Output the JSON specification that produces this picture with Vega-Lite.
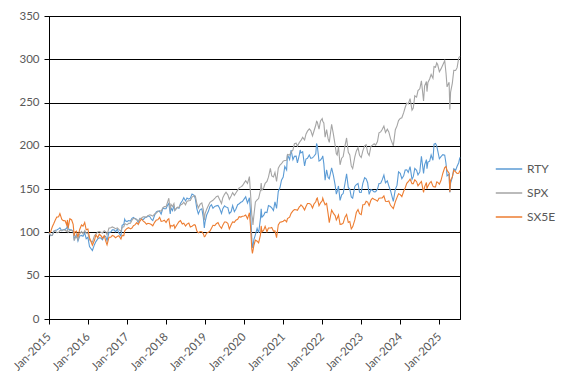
{
"$schema": "https://vega.github.io/schema/vega-lite/v6.json",
"width": 411,
"height": 303,
"autosize": "none",
"padding": {"left": 49, "top": 16, "right": 107, "bottom": 64},
"background": "white",
"config": {
 "view": {"stroke": "#000000", "strokeWidth": 1},
 "font": "Lato",
 "axis": {"labelFont": "Lato", "labelFontSize": 11.5, "labelColor": "#595959", "domainColor": "#000000", "tickColor": "#000000", "gridColor": "#000000", "gridOpacity": 1, "tickSize": 5, "domainWidth": 1, "tickWidth": 1, "gridWidth": 1},
 "legend": {"labelFont": "Lato", "labelFontSize": 12, "labelColor": "#595959"}
},
"data": {"values": [
{"d":"2015-01-01","RTY":100,"SPX":100,"SX5E":100},
{"d":"2015-01-15","RTY":96.3,"SPX":96.7,"SX5E":100.3},
{"d":"2015-02-01","RTY":96.7,"SPX":96.9,"SX5E":106.5},
{"d":"2015-02-15","RTY":101.1,"SPX":101.8,"SX5E":110.3},
{"d":"2015-03-01","RTY":102.4,"SPX":102.2,"SX5E":114.4},
{"d":"2015-03-15","RTY":102.9,"SPX":99.7,"SX5E":117.7},
{"d":"2015-04-01","RTY":104.1,"SPX":100.0,"SX5E":118.1},
{"d":"2015-04-13","RTY":105.3,"SPX":102.3,"SX5E":121.7},
{"d":"2015-05-01","RTY":101.9,"SPX":102.4,"SX5E":114.9},
{"d":"2015-05-15","RTY":103.2,"SPX":103.1,"SX5E":113.6},
{"d":"2015-06-01","RTY":103.5,"SPX":102.5,"SX5E":113.5},
{"d":"2015-06-15","RTY":105.0,"SPX":101.2,"SX5E":108.8},
{"d":"2015-06-23","RTY":107.5,"SPX":103.2,"SX5E":114.4},
{"d":"2015-06-29","RTY":104.0,"SPX":99.9,"SX5E":104.7},
{"d":"2015-07-15","RTY":103.3,"SPX":102.3,"SX5E":115.8},
{"d":"2015-08-01","RTY":102.8,"SPX":102.2,"SX5E":114.4},
{"d":"2015-08-15","RTY":101.4,"SPX":101.6,"SX5E":109.3},
{"d":"2015-08-25","RTY":92.1,"SPX":90.7,"SX5E":96.0},
{"d":"2015-09-01","RTY":94.3,"SPX":93.0,"SX5E":100.4},
{"d":"2015-09-15","RTY":97.3,"SPX":96.1,"SX5E":101.6},
{"d":"2015-09-29","RTY":90.0,"SPX":91.5,"SX5E":94.6},
{"d":"2015-10-15","RTY":95.8,"SPX":98.3,"SX5E":103.4},
{"d":"2015-11-01","RTY":96.5,"SPX":101.0,"SX5E":108.6},
{"d":"2015-11-15","RTY":95.5,"SPX":98.3,"SX5E":107.2},
{"d":"2015-12-01","RTY":99.4,"SPX":102.1,"SX5E":111.4},
{"d":"2015-12-15","RTY":92.7,"SPX":99.2,"SX5E":103.0},
{"d":"2015-12-31","RTY":94.3,"SPX":99.3,"SX5E":103.9},
{"d":"2016-01-15","RTY":83.6,"SPX":91.3,"SX5E":93.9},
{"d":"2016-02-11","RTY":79.1,"SPX":88.8,"SX5E":85.2},
{"d":"2016-03-01","RTY":85.9,"SPX":96.1,"SX5E":90.9},
{"d":"2016-03-15","RTY":89.4,"SPX":97.9,"SX5E":97.3},
{"d":"2016-04-01","RTY":92.5,"SPX":100.6,"SX5E":93.9},
{"d":"2016-04-15","RTY":93.8,"SPX":101.1,"SX5E":97.9},
{"d":"2016-05-01","RTY":93.5,"SPX":100.3,"SX5E":96.2},
{"d":"2016-05-15","RTY":91.6,"SPX":99.4,"SX5E":93.4},
{"d":"2016-06-01","RTY":95.9,"SPX":101.9,"SX5E":96.3},
{"d":"2016-06-15","RTY":95.4,"SPX":100.6,"SX5E":90.0},
{"d":"2016-06-27","RTY":90.4,"SPX":97.1,"SX5E":85.7},
{"d":"2016-07-15","RTY":100.2,"SPX":105.0,"SX5E":94.4},
{"d":"2016-08-01","RTY":100.5,"SPX":105.4,"SX5E":94.4},
{"d":"2016-08-15","RTY":102.9,"SPX":106.4,"SX5E":96.6},
{"d":"2016-09-01","RTY":102.9,"SPX":105.4,"SX5E":95.5},
{"d":"2016-09-15","RTY":100.7,"SPX":104.3,"SX5E":93.8},
{"d":"2016-10-01","RTY":103.8,"SPX":105.3,"SX5E":95.4},
{"d":"2016-10-15","RTY":99.5,"SPX":103.6,"SX5E":96.2},
{"d":"2016-11-04","RTY":96.0,"SPX":101.3,"SX5E":92.4},
{"d":"2016-11-15","RTY":108.2,"SPX":105.9,"SX5E":96.6},
{"d":"2016-12-01","RTY":109.4,"SPX":106.4,"SX5E":96.4},
{"d":"2016-12-09","RTY":115.2,"SPX":109.7,"SX5E":101.7},
{"d":"2016-12-15","RTY":113.4,"SPX":109.9,"SX5E":102.7},
{"d":"2016-12-31","RTY":112.6,"SPX":108.7,"SX5E":104.6},
{"d":"2017-01-15","RTY":113.8,"SPX":110.5,"SX5E":105.5},
{"d":"2017-02-01","RTY":113.1,"SPX":110.7,"SX5E":104.1},
{"d":"2017-02-15","RTY":116.3,"SPX":114.1,"SX5E":105.1},
{"d":"2017-03-01","RTY":117.3,"SPX":116.3,"SX5E":107.8},
{"d":"2017-03-15","RTY":116.0,"SPX":115.8,"SX5E":108.7},
{"d":"2017-04-01","RTY":115.0,"SPX":114.7,"SX5E":111.2},
{"d":"2017-04-15","RTY":111.6,"SPX":113.1,"SX5E":109.1},
{"d":"2017-05-01","RTY":116.2,"SPX":116.0,"SX5E":113.1},
{"d":"2017-05-15","RTY":115.6,"SPX":116.7,"SX5E":115.5},
{"d":"2017-06-01","RTY":114.8,"SPX":118.0,"SX5E":113.1},
{"d":"2017-06-15","RTY":116.9,"SPX":118.1,"SX5E":111.8},
{"d":"2017-07-01","RTY":117.5,"SPX":117.7,"SX5E":109.4},
{"d":"2017-07-15","RTY":119.0,"SPX":119.4,"SX5E":110.6},
{"d":"2017-08-01","RTY":118.3,"SPX":120.3,"SX5E":110.0},
{"d":"2017-08-15","RTY":115.3,"SPX":119.7,"SX5E":109.2},
{"d":"2017-08-29","RTY":113.7,"SPX":118.8,"SX5E":107.7},
{"d":"2017-09-15","RTY":119.9,"SPX":121.4,"SX5E":111.7},
{"d":"2017-10-01","RTY":123.7,"SPX":122.3,"SX5E":114.3},
{"d":"2017-10-15","RTY":124.7,"SPX":124.0,"SX5E":114.6},
{"d":"2017-11-01","RTY":124.1,"SPX":125.3,"SX5E":117.4},
{"d":"2017-11-15","RTY":121.1,"SPX":124.5,"SX5E":112.9},
{"d":"2017-12-01","RTY":127.9,"SPX":128.3,"SX5E":113.3},
{"d":"2017-12-15","RTY":127.5,"SPX":129.9,"SX5E":114.1},
{"d":"2017-12-31","RTY":127.4,"SPX":129.8,"SX5E":111.4},
{"d":"2018-01-15","RTY":131.7,"SPX":135.3,"SX5E":114.8},
{"d":"2018-01-26","RTY":133.5,"SPX":139.5,"SX5E":115.9},
{"d":"2018-02-08","RTY":121.4,"SPX":125.4,"SX5E":105.7},
{"d":"2018-02-15","RTY":128.2,"SPX":132.6,"SX5E":108.0},
{"d":"2018-03-01","RTY":125.2,"SPX":130.0,"SX5E":107.2},
{"d":"2018-03-15","RTY":131.0,"SPX":133.4,"SX5E":108.8},
{"d":"2018-03-23","RTY":125.3,"SPX":125.7,"SX5E":104.8},
{"d":"2018-04-15","RTY":128.8,"SPX":129.0,"SX5E":109.5},
{"d":"2018-05-01","RTY":127.9,"SPX":128.9,"SX5E":112.4},
{"d":"2018-05-15","RTY":133.5,"SPX":131.7,"SX5E":113.6},
{"d":"2018-06-01","RTY":136.6,"SPX":132.8,"SX5E":109.7},
{"d":"2018-06-15","RTY":140.0,"SPX":135.0,"SX5E":110.6},
{"d":"2018-07-01","RTY":136.4,"SPX":132.0,"SX5E":107.4},
{"d":"2018-07-15","RTY":139.8,"SPX":136.0,"SX5E":109.6},
{"d":"2018-08-01","RTY":138.5,"SPX":136.6,"SX5E":110.9},
{"d":"2018-08-15","RTY":139.5,"SPX":136.9,"SX5E":106.3},
{"d":"2018-08-31","RTY":144.4,"SPX":140.9,"SX5E":107.1},
{"d":"2018-09-20","RTY":142.9,"SPX":142.3,"SX5E":109.0},
{"d":"2018-10-01","RTY":138.8,"SPX":142.0,"SX5E":108.3},
{"d":"2018-10-15","RTY":127.5,"SPX":133.6,"SX5E":101.7},
{"d":"2018-10-29","RTY":121.4,"SPX":128.3,"SX5E":99.5},
{"d":"2018-11-15","RTY":126.4,"SPX":132.6,"SX5E":101.0},
{"d":"2018-12-01","RTY":127.3,"SPX":134.1,"SX5E":100.8},
{"d":"2018-12-15","RTY":117.1,"SPX":126.2,"SX5E":98.3},
{"d":"2018-12-24","RTY":105.2,"SPX":114.2,"SX5E":95.0},
{"d":"2018-12-31","RTY":112.0,"SPX":121.8,"SX5E":95.4},
{"d":"2019-01-15","RTY":120.1,"SPX":126.8,"SX5E":99.2},
{"d":"2019-02-01","RTY":124.7,"SPX":131.4,"SX5E":100.2},
{"d":"2019-02-15","RTY":130.2,"SPX":134.8,"SX5E":101.6},
{"d":"2019-03-01","RTY":132.0,"SPX":136.1,"SX5E":104.9},
{"d":"2019-03-15","RTY":127.9,"SPX":137.1,"SX5E":108.2},
{"d":"2019-04-01","RTY":130.0,"SPX":139.2,"SX5E":107.9},
{"d":"2019-04-15","RTY":130.7,"SPX":141.2,"SX5E":110.0},
{"d":"2019-05-01","RTY":131.2,"SPX":142.0,"SX5E":111.4},
{"d":"2019-05-15","RTY":128.2,"SPX":138.4,"SX5E":107.7},
{"d":"2019-06-03","RTY":121.9,"SPX":133.3,"SX5E":104.6},
{"d":"2019-06-15","RTY":127.5,"SPX":140.2,"SX5E":108.4},
{"d":"2019-07-01","RTY":130.7,"SPX":144.0,"SX5E":112.1},
{"d":"2019-07-15","RTY":129.3,"SPX":146.4,"SX5E":112.0},
{"d":"2019-08-01","RTY":128.7,"SPX":143.4,"SX5E":110.6},
{"d":"2019-08-15","RTY":121.8,"SPX":138.3,"SX5E":104.1},
{"d":"2019-09-01","RTY":124.0,"SPX":142.1,"SX5E":108.9},
{"d":"2019-09-15","RTY":131.0,"SPX":146.0,"SX5E":112.2},
{"d":"2019-10-01","RTY":124.0,"SPX":142.8,"SX5E":111.7},
{"d":"2019-10-15","RTY":126.8,"SPX":145.5,"SX5E":114.1},
{"d":"2019-11-01","RTY":132.0,"SPX":148.9,"SX5E":115.1},
{"d":"2019-11-15","RTY":133.2,"SPX":151.5,"SX5E":118.2},
{"d":"2019-12-01","RTY":134.8,"SPX":152.6,"SX5E":117.7},
{"d":"2019-12-15","RTY":135.7,"SPX":153.9,"SX5E":118.6},
{"d":"2019-12-31","RTY":138.5,"SPX":156.9,"SX5E":119.0},
{"d":"2020-01-15","RTY":141.1,"SPX":159.7,"SX5E":120.1},
{"d":"2020-02-01","RTY":134.0,"SPX":156.6,"SX5E":115.7},
{"d":"2020-02-19","RTY":140.1,"SPX":164.5,"SX5E":122.8},
{"d":"2020-03-01","RTY":122.5,"SPX":143.5,"SX5E":105.8},
{"d":"2020-03-12","RTY":93.1,"SPX":120.4,"SX5E":80.9},
{"d":"2020-03-18","RTY":82.3,"SPX":116.5,"SX5E":75.8},
{"d":"2020-03-23","RTY":84.2,"SPX":108.6,"SX5E":79.0},
{"d":"2020-04-01","RTY":91.6,"SPX":120.0,"SX5E":85.2},
{"d":"2020-04-15","RTY":97.4,"SPX":135.2,"SX5E":91.2},
{"d":"2020-05-01","RTY":104.6,"SPX":137.5,"SX5E":89.9},
{"d":"2020-05-15","RTY":99.4,"SPX":139.1,"SX5E":88.0},
{"d":"2020-06-01","RTY":115.7,"SPX":148.4,"SX5E":96.9},
{"d":"2020-06-08","RTY":127.4,"SPX":157.0,"SX5E":107.5},
{"d":"2020-06-15","RTY":117.5,"SPX":148.9,"SX5E":100.6},
{"d":"2020-07-01","RTY":119.6,"SPX":151.3,"SX5E":102.7},
{"d":"2020-07-15","RTY":123.4,"SPX":156.7,"SX5E":107.1},
{"d":"2020-08-01","RTY":122.9,"SPX":158.9,"SX5E":100.9},
{"d":"2020-08-15","RTY":131.0,"SPX":163.8,"SX5E":105.1},
{"d":"2020-09-02","RTY":129.9,"SPX":173.9,"SX5E":105.2},
{"d":"2020-09-15","RTY":128.3,"SPX":165.2,"SX5E":105.8},
{"d":"2020-10-01","RTY":125.2,"SPX":164.2,"SX5E":101.5},
{"d":"2020-10-15","RTY":135.3,"SPX":169.2,"SX5E":101.7},
{"d":"2020-10-30","RTY":127.7,"SPX":158.8,"SX5E":94.0},
{"d":"2020-11-15","RTY":147.3,"SPX":174.1,"SX5E":108.7},
{"d":"2020-12-01","RTY":151.9,"SPX":177.9,"SX5E":111.9},
{"d":"2020-12-15","RTY":160.3,"SPX":179.4,"SX5E":112.2},
{"d":"2020-12-31","RTY":163.9,"SPX":182.4,"SX5E":112.9},
{"d":"2021-01-15","RTY":176.2,"SPX":183.0,"SX5E":114.4},
{"d":"2021-02-01","RTY":172.2,"SPX":183.3,"SX5E":112.2},
{"d":"2021-02-09","RTY":189.7,"SPX":190.0,"SX5E":116.0},
{"d":"2021-03-01","RTY":184.2,"SPX":189.5,"SX5E":117.6},
{"d":"2021-03-15","RTY":195.2,"SPX":192.7,"SX5E":122.0},
{"d":"2021-04-01","RTY":184.1,"SPX":195.2,"SX5E":124.9},
{"d":"2021-04-15","RTY":187.9,"SPX":202.5,"SX5E":126.5},
{"d":"2021-05-01","RTY":188.1,"SPX":203.1,"SX5E":126.2},
{"d":"2021-05-13","RTY":180.2,"SPX":199.7,"SX5E":125.5},
{"d":"2021-06-01","RTY":190.1,"SPX":204.1,"SX5E":129.7},
{"d":"2021-06-08","RTY":195.2,"SPX":205.3,"SX5E":130.3},
{"d":"2021-06-15","RTY":191.9,"SPX":206.2,"SX5E":131.9},
{"d":"2021-07-01","RTY":193.2,"SPX":209.8,"SX5E":129.8},
{"d":"2021-07-19","RTY":176.8,"SPX":206.8,"SX5E":125.9},
{"d":"2021-08-01","RTY":184.8,"SPX":213.5,"SX5E":130.0},
{"d":"2021-08-15","RTY":185.6,"SPX":217.0,"SX5E":133.5},
{"d":"2021-09-01","RTY":189.4,"SPX":219.7,"SX5E":133.5},
{"d":"2021-09-15","RTY":185.5,"SPX":217.6,"SX5E":132.5},
{"d":"2021-10-01","RTY":186.1,"SPX":211.6,"SX5E":128.2},
{"d":"2021-10-15","RTY":188.0,"SPX":217.2,"SX5E":132.9},
{"d":"2021-11-01","RTY":190.9,"SPX":224.1,"SX5E":135.4},
{"d":"2021-11-08","RTY":202.7,"SPX":228.3,"SX5E":138.6},
{"d":"2021-11-15","RTY":200.1,"SPX":227.4,"SX5E":139.8},
{"d":"2021-12-01","RTY":182.4,"SPX":219.2,"SX5E":130.9},
{"d":"2021-12-15","RTY":183.6,"SPX":228.7,"SX5E":134.1},
{"d":"2021-12-31","RTY":186.4,"SPX":231.5,"SX5E":136.6},
{"d":"2022-01-05","RTY":188.4,"SPX":228.3,"SX5E":139.5},
{"d":"2022-01-15","RTY":179.5,"SPX":226.4,"SX5E":135.7},
{"d":"2022-01-27","RTY":160.3,"SPX":210.1,"SX5E":131.9},
{"d":"2022-02-10","RTY":172.4,"SPX":218.8,"SX5E":133.5},
{"d":"2022-02-24","RTY":163.5,"SPX":208.3,"SX5E":121.7},
{"d":"2022-03-07","RTY":161.9,"SPX":204.0,"SX5E":111.4},
{"d":"2022-03-29","RTY":174.7,"SPX":224.9,"SX5E":125.9},
{"d":"2022-04-15","RTY":165.5,"SPX":213.3,"SX5E":122.0},
{"d":"2022-05-01","RTY":154.7,"SPX":200.7,"SX5E":119.5},
{"d":"2022-05-12","RTY":144.3,"SPX":190.9,"SX5E":114.4},
{"d":"2022-05-20","RTY":147.2,"SPX":189.5,"SX5E":116.3},
{"d":"2022-06-01","RTY":153.7,"SPX":199.2,"SX5E":120.1},
{"d":"2022-06-16","RTY":137.0,"SPX":178.1,"SX5E":109.3},
{"d":"2022-07-01","RTY":143.4,"SPX":185.8,"SX5E":109.6},
{"d":"2022-07-15","RTY":144.9,"SPX":187.6,"SX5E":110.6},
{"d":"2022-08-01","RTY":156.5,"SPX":200.0,"SX5E":117.6},
{"d":"2022-08-16","RTY":167.8,"SPX":209.1,"SX5E":120.8},
{"d":"2022-09-01","RTY":152.0,"SPX":192.6,"SX5E":111.6},
{"d":"2022-09-15","RTY":149.8,"SPX":189.5,"SX5E":112.5},
{"d":"2022-09-29","RTY":141.1,"SPX":176.8,"SX5E":104.2},
{"d":"2022-10-12","RTY":139.6,"SPX":173.7,"SX5E":106.5},
{"d":"2022-11-01","RTY":153.2,"SPX":187.3,"SX5E":114.4},
{"d":"2022-11-15","RTY":155.2,"SPX":193.8,"SX5E":123.0},
{"d":"2022-12-01","RTY":156.6,"SPX":198.0,"SX5E":126.5},
{"d":"2022-12-15","RTY":146.4,"SPX":189.2,"SX5E":121.7},
{"d":"2022-12-31","RTY":146.2,"SPX":186.5,"SX5E":120.6},
{"d":"2023-01-15","RTY":156.6,"SPX":194.2,"SX5E":131.9},
{"d":"2023-02-01","RTY":163.2,"SPX":200.1,"SX5E":132.2},
{"d":"2023-02-15","RTY":161.9,"SPX":201.4,"SX5E":136.0},
{"d":"2023-03-01","RTY":157.4,"SPX":191.9,"SX5E":135.1},
{"d":"2023-03-15","RTY":144.0,"SPX":189.0,"SX5E":130.9},
{"d":"2023-04-01","RTY":149.6,"SPX":199.6,"SX5E":137.3},
{"d":"2023-04-15","RTY":148.6,"SPX":200.9,"SX5E":139.5},
{"d":"2023-05-01","RTY":146.8,"SPX":202.4,"SX5E":138.3},
{"d":"2023-05-15","RTY":147.1,"SPX":200.9,"SX5E":137.6},
{"d":"2023-06-01","RTY":150.1,"SPX":205.0,"SX5E":136.0},
{"d":"2023-06-15","RTY":156.5,"SPX":215.0,"SX5E":139.5},
{"d":"2023-07-01","RTY":156.7,"SPX":216.1,"SX5E":139.8},
{"d":"2023-07-15","RTY":160.7,"SPX":218.8,"SX5E":139.8},
{"d":"2023-07-31","RTY":166.3,"SPX":222.9,"SX5E":142.1},
{"d":"2023-08-15","RTY":157.3,"SPX":215.5,"SX5E":136.0},
{"d":"2023-09-01","RTY":159.5,"SPX":219.3,"SX5E":135.7},
{"d":"2023-09-15","RTY":153.8,"SPX":216.1,"SX5E":136.3},
{"d":"2023-10-01","RTY":148.2,"SPX":208.3,"SX5E":131.3},
{"d":"2023-10-27","RTY":135.8,"SPX":200.0,"SX5E":127.6},
{"d":"2023-11-15","RTY":149.7,"SPX":218.7,"SX5E":135.4},
{"d":"2023-12-01","RTY":154.6,"SPX":223.1,"SX5E":140.5},
{"d":"2023-12-15","RTY":170.0,"SPX":229.2,"SX5E":144.6},
{"d":"2023-12-31","RTY":168.3,"SPX":231.7,"SX5E":143.7},
{"d":"2024-01-15","RTY":162.0,"SPX":232.4,"SX5E":141.4},
{"d":"2024-02-01","RTY":165.3,"SPX":238.3,"SX5E":147.5},
{"d":"2024-02-15","RTY":172.1,"SPX":244.3,"SX5E":151.3},
{"d":"2024-03-01","RTY":172.3,"SPX":249.5,"SX5E":156.7},
{"d":"2024-03-15","RTY":169.3,"SPX":248.5,"SX5E":158.6},
{"d":"2024-04-01","RTY":176.0,"SPX":254.6,"SX5E":161.5},
{"d":"2024-04-19","RTY":161.2,"SPX":241.2,"SX5E":156.4},
{"d":"2024-05-01","RTY":164.4,"SPX":243.7,"SX5E":156.4},
{"d":"2024-05-15","RTY":174.0,"SPX":257.8,"SX5E":160.8},
{"d":"2024-06-01","RTY":171.8,"SPX":256.3,"SX5E":158.6},
{"d":"2024-06-14","RTY":166.5,"SPX":263.8,"SX5E":153.8},
{"d":"2024-07-01","RTY":169.9,"SPX":265.9,"SX5E":156.7},
{"d":"2024-07-16","RTY":188.0,"SPX":275.2,"SX5E":158.9},
{"d":"2024-08-05","RTY":168.2,"SPX":251.9,"SX5E":146.2},
{"d":"2024-08-15","RTY":178.1,"SPX":269.2,"SX5E":152.6},
{"d":"2024-09-01","RTY":184.1,"SPX":274.3,"SX5E":157.6},
{"d":"2024-09-06","RTY":173.7,"SPX":262.7,"SX5E":150.6},
{"d":"2024-09-15","RTY":181.2,"SPX":273.3,"SX5E":153.5},
{"d":"2024-10-01","RTY":182.3,"SPX":277.2,"SX5E":157.0},
{"d":"2024-10-15","RTY":189.4,"SPX":282.4,"SX5E":158.9},
{"d":"2024-11-01","RTY":183.4,"SPX":278.2,"SX5E":153.5},
{"d":"2024-11-11","RTY":202.0,"SPX":291.5,"SX5E":152.6},
{"d":"2024-11-25","RTY":202.7,"SPX":290.8,"SX5E":152.6},
{"d":"2024-12-06","RTY":200.0,"SPX":295.8,"SX5E":158.3},
{"d":"2024-12-15","RTY":194.7,"SPX":293.9,"SX5E":158.0},
{"d":"2024-12-31","RTY":185.1,"SPX":285.7,"SX5E":155.6},
{"d":"2025-01-15","RTY":187.6,"SPX":288.9,"SX5E":159.9},
{"d":"2025-02-01","RTY":189.8,"SPX":293.4,"SX5E":168.1},
{"d":"2025-02-19","RTY":189.2,"SPX":298.4,"SX5E":174.8},
{"d":"2025-03-03","RTY":179.6,"SPX":284.1,"SX5E":176.1},
{"d":"2025-03-13","RTY":165.4,"SPX":268.1,"SX5E":171.6},
{"d":"2025-04-01","RTY":167.3,"SPX":273.6,"SX5E":168.4},
{"d":"2025-04-08","RTY":146.1,"SPX":242.0,"SX5E":146.8},
{"d":"2025-04-15","RTY":156.9,"SPX":262.1,"SX5E":160.5},
{"d":"2025-05-01","RTY":163.5,"SPX":272.2,"SX5E":164.0},
{"d":"2025-05-15","RTY":173.5,"SPX":287.3,"SX5E":171.9},
{"d":"2025-06-01","RTY":171.8,"SPX":287.1,"SX5E":170.0},
{"d":"2025-06-15","RTY":176.4,"SPX":290.3,"SX5E":168.1},
{"d":"2025-06-30","RTY":180.5,"SPX":301.4,"SX5E":168.4},
{"d":"2025-07-11","RTY":186.8,"SPX":303.5,"SX5E":171.6}
]},
"transform": [{"fold": ["RTY", "SPX", "SX5E"], "as": ["series", "value"]}],
"mark": {"type": "line", "strokeWidth": 1.1, "interpolate": "linear"},
"encoding": {
 "x": {"field": "d", "type": "temporal", "title": null,
  "scale": {"domain": [{"year": 2015, "month": 1, "date": 1}, {"year": 2025, "month": 7, "date": 12}], "nice": false},
  "axis": {"format": "%b-%Y", "labelAngle": -45, "labelAlign": "right", "labelBaseline": "middle", "labelPadding": 11, "labelOverlap": false, "labelFlush": false, "labelBound": false, "grid": false, "ticks": true,
   "values": [{"year":2015,"month":1,"date":1},{"year":2016,"month":1,"date":1},{"year":2017,"month":1,"date":1},{"year":2018,"month":1,"date":1},{"year":2019,"month":1,"date":1},{"year":2020,"month":1,"date":1},{"year":2021,"month":1,"date":1},{"year":2022,"month":1,"date":1},{"year":2023,"month":1,"date":1},{"year":2024,"month":1,"date":1},{"year":2025,"month":1,"date":1}]}},
 "y": {"field": "value", "type": "quantitative", "title": null,
  "scale": {"domain": [0, 350], "nice": false},
  "axis": {"values": [0, 50, 100, 150, 200, 250, 300, 350], "grid": true, "labelPadding": 5}},
 "color": {"field": "series", "type": "nominal", "title": null,
  "scale": {"domain": ["RTY", "SPX", "SX5E"], "range": ["#5B9BD5", "#A5A5A5", "#ED7D31"]},
  "legend": {"orient": "none", "legendX": 446, "legendY": 139, "symbolType": "stroke", "symbolSize": 700, "symbolStrokeWidth": 1.5, "labelOffset": 4, "rowPadding": 4}}
}
}
